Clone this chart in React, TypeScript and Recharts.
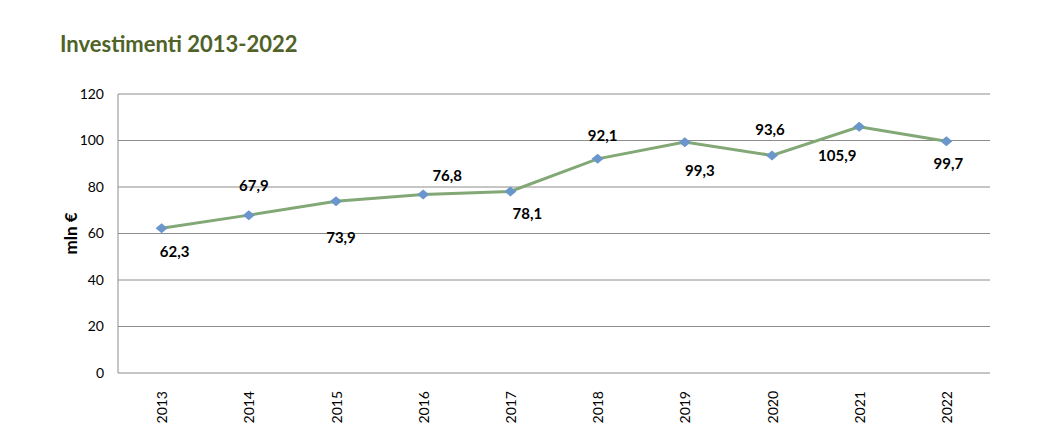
import React from "react";
import {
  LineChart,
  Line,
  XAxis,
  YAxis,
  CartesianGrid,
  LabelList,
} from "recharts";

const years = ["2013", "2014", "2015", "2016", "2017", "2018", "2019", "2020", "2021", "2022"];
const investimenti = [62.3, 67.9, 73.9, 76.8, 78.1, 92.1, 99.3, 93.6, 105.9, 99.7];
const yTicks = [0, 20, 40, 60, 80, 100, 120];

// where each data label sits relative to its point (as in the original Excel chart)
const labelOffsets = [
  [13, 23], [5, -30], [5, 36], [24, -19], [17, 22],
  [5, -24], [15, 28], [-2, -26], [-22, 28], [2, 22],
];

const data = years.map((year, i) => ({ year, value: investimenti[i] }));

const font = "Lato, 'Noto Sans', sans-serif";

const Diamond = (props: any) => {
  const { cx, cy } = props;
  if (cx == null || cy == null) return null;
  return (
    <polygon
      points={`${cx - 6},${cy} ${cx},${cy - 5} ${cx + 6},${cy} ${cx},${cy + 5}`}
      fill="#6b96cc"
    />
  );
};

const ValueLabel = (props: any) => {
  const { x, y, value, index } = props;
  const [dx, dy] = labelOffsets[index];
  return (
    <text
      x={x + dx}
      y={y + dy}
      textAnchor="middle"
      dominantBaseline="central"
      fontFamily={font}
      fontWeight="bold"
      fontSize={15}
      fill="#000"
    >
      {String(value).replace(".", ",")}
    </text>
  );
};

const YearTick = (props: any) => {
  const { x, y, payload } = props;
  return (
    <text
      x={x}
      y={y + 10}
      transform={`rotate(-90, ${x}, ${y + 10})`}
      textAnchor="end"
      dominantBaseline="central"
      fontFamily={font}
      fontSize={14}
      fill="#000"
    >
      {payload.value}
    </text>
  );
};

export default function App() {
  return (
    <div style={{ position: "absolute", left: 0, top: 0, width: 1064, height: 448, background: "#fff" }}>
      <div
        style={{
          position: "absolute",
          left: 60,
          top: 30,
          fontFamily: font,
          fontWeight: "bold",
          fontSize: 22,
          color: "#4f6228",
        }}
      >
        Investimenti 2013-2022
      </div>
      <LineChart
        width={1064}
        height={448}
        data={data}
        margin={{ top: 94, right: 74, bottom: 15, left: 58 }}
      >
        <CartesianGrid vertical={false} stroke="#8c8c8c" strokeWidth={1} />
        <XAxis
          dataKey="year"
          axisLine={false}
          tickLine={false}
          height={60}
          interval={0}
          padding={{ left: 43.6, right: 43.6 }}
          tick={<YearTick />}
        />
        <YAxis
          domain={[0, 120]}
          ticks={yTicks}
          width={60}
          axisLine={{ stroke: "#8c8c8c" }}
          tickLine={false}
          tickMargin={8}
          tick={{ fontFamily: font, fontSize: 14, fill: "#000" }}
          label={{
            value: "mln €",
            angle: -90,
            position: "insideLeft",
            dx: 8,
            style: { fontFamily: font, fontWeight: "bold", fontSize: 17, fill: "#000", textAnchor: "middle" },
          }}
        />
        <Line
          type="linear"
          dataKey="value"
          stroke="#82a876"
          strokeWidth={3}
          dot={<Diamond />}
          activeDot={false}
          isAnimationActive={false}
        >
          <LabelList dataKey="value" content={<ValueLabel />} />
        </Line>
      </LineChart>
    </div>
  );
}
